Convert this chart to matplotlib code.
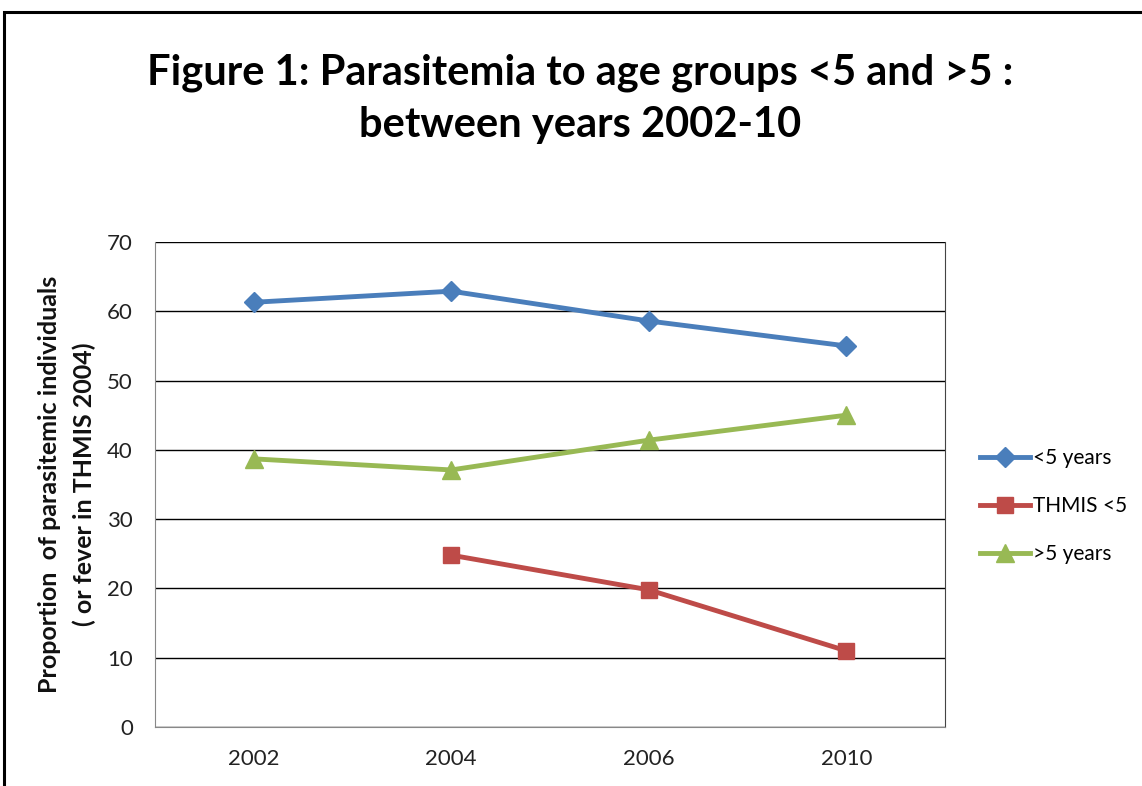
import matplotlib
matplotlib.use('Agg')
import matplotlib.pyplot as plt
from matplotlib.patches import Rectangle

plt.rcParams['font.family'] = ['Lato', 'Open Sans', 'DejaVu Sans']

years = ['2002', '2004', '2006', '2010']
under5 = [61.3, 62.9, 58.6, 55.0]
thmis_under5 = [None, 24.8, 19.8, 11.0]
over5 = [38.7, 37.1, 41.4, 45.0]

fig = plt.figure(figsize=(11.42, 7.86), dpi=100)
# outer chart frame (left and top edges visible)
fig.add_artist(Rectangle((4/1142, -0.05), 1.2, (786-12)/786 + 0.05, transform=fig.transFigure,
                         fill=False, edgecolor='black', linewidth=2.2))

ax = fig.add_axes([155/1142, 1-727/786, 790/1142, 485/786])
x = range(len(years))
ax.plot(x, under5, color='#4A7EBB', lw=3.5, marker='D', ms=10, label='<5 years')
xt = [i for i, v in zip(x, thmis_under5) if v is not None]
yt = [v for v in thmis_under5 if v is not None]
ax.plot(xt, yt, color='#BE4B48', lw=3.5, marker='s', ms=12, label='THMIS <5')
ax.plot(x, over5, color='#98B954', lw=3.5, marker='^', ms=13, label='>5 years')

ax.set_xlim(-0.5, 3.5)
ax.set_ylim(0, 70)
ax.set_yticks(range(0, 71, 10))
ax.set_xticks(list(x))
ax.set_xticklabels(years)
ax.tick_params(length=0, labelsize=16, colors='#222222')
ax.tick_params(axis='x', pad=16)
ax.tick_params(axis='y', pad=16)
ax.yaxis.grid(True, color='black', lw=1)
ax.set_axisbelow(True)
for s in ['left', 'bottom']:
    ax.spines[s].set_color('#888888')
ax.spines['right'].set_color('#444444')
ax.spines['top'].set_visible(False)

ax.set_ylabel('Proportion  of parasitemic individuals\n( or fever in THMIS 2004)',
              fontsize=18, fontweight='bold', color='#111111', labelpad=8, linespacing=1.6)

fig.text(580/1142, 1-99/786, 'Figure 1: Parasitemia to age groups <5 and >5 :\nbetween years 2002-10',
         ha='center', va='center', fontsize=30, fontweight='bold', linespacing=1.45)

ax.legend(loc='center left', bbox_to_anchor=((980-155)/790, 0.455), frameon=False, fontsize=15,
          handlelength=2.4, labelspacing=1.35, handletextpad=0.15, borderpad=0, borderaxespad=0)

fig.savefig('out.png', dpi=100)
